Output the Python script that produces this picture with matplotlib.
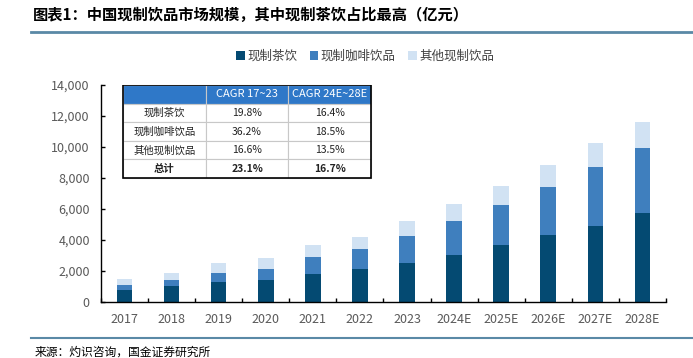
import matplotlib.pyplot as plt
import numpy as np
from matplotlib.patches import Rectangle
from matplotlib.lines import Line2D
from matplotlib.ticker import FuncFormatter

plt.rcParams['font.family'] = ['Noto Sans CJK SC', 'DejaVu Sans']

years = ['2017', '2018', '2019', '2020', '2021', '2022', '2023',
         '2024E', '2025E', '2026E', '2027E', '2028E']
tea = [790, 1050, 1270, 1440, 1830, 2130, 2520, 3050, 3680, 4300, 4930, 5720]
coffee = [330, 370, 620, 690, 1070, 1310, 1720, 2200, 2580, 3100, 3760, 4200]
other = [370, 470, 630, 730, 780, 750, 990, 1070, 1250, 1440, 1550, 1710]

table_cols = ['', 'CAGR 17~23', 'CAGR 24E~28E']
table_rows = [
    ['现制茶饮', '19.8%', '16.4%'],
    ['现制咖啡饮品', '36.2%', '18.5%'],
    ['其他现制饮品', '16.6%', '13.5%'],
    ['总计', '23.1%', '16.7%'],
]

c_tea = '#044a72'
c_coffee = '#3f7fbe'
c_other = '#d1e2f3'

fig = plt.figure(figsize=(6.93, 3.58), dpi=100)
ax = fig.add_axes([0.1457, 0.1564, 0.8153, 0.6062])

x = np.arange(len(years))
w = 0.33
b1 = ax.bar(x, tea, w, color=c_tea, label='现制茶饮')
b2 = ax.bar(x, coffee, w, bottom=tea, color=c_coffee, label='现制咖啡饮品')
bottom2 = np.array(tea) + np.array(coffee)
b3 = ax.bar(x, other, w, bottom=bottom2, color=c_other, label='其他现制饮品')

ax.set_xlim(-0.5, len(years) - 0.5)
ax.set_ylim(0, 14000)
ax.set_yticks(range(0, 14001, 2000))
ax.yaxis.set_major_formatter(FuncFormatter(lambda v, p: f'{int(v):,}'))
ax.set_xticks(x)
ax.set_xticklabels(years)
ax.set_xticks(np.arange(-0.5, len(years), 1), minor=True)
ax.tick_params(axis='x', which='major', length=0, pad=8, labelsize=9, labelcolor='#595959')
ax.tick_params(axis='x', which='minor', direction='in', length=3, width=1)
ax.tick_params(axis='y', direction='in', length=3, width=1, labelsize=9, labelcolor='#595959', pad=8)
for s in ['top', 'right']:
    ax.spines[s].set_visible(False)
for s in ['left', 'bottom']:
    ax.spines[s].set_linewidth(1)

# table
tb = ax.table(cellText=table_rows, colLabels=table_cols,
              bbox=[0.039, 0.571, 0.439, 0.429], cellLoc='center')
tb.auto_set_font_size(False)
for (r, c), cell in tb.get_celld().items():
    cell.set_edgecolor('#c8c8c8')
    cell.set_linewidth(0.8)
    cell.get_text().set_fontsize(7.5)
    if r == 0:
        cell.set_facecolor('#2f78c8')
        cell.get_text().set_color('white')
        cell.get_text().set_fontsize(8)
    else:
        cell.get_text().set_color('#222222')
    if r == len(table_rows):
        cell.get_text().set_fontweight('bold')
ax.add_patch(Rectangle((0.039, 0.571), 0.439, 0.429, transform=ax.transAxes,
                       fill=False, edgecolor='black', linewidth=1.2, zorder=10))

# legend
fig.legend(handles=[b1, b2, b3], loc='center', bbox_to_anchor=(0.527, 0.843),
           ncol=3, frameon=False, fontsize=9, handlelength=0.7, handleheight=0.7,
           handletextpad=0.2, columnspacing=1.0, labelcolor='#404040')

# title & source
fig.text(0.048, 0.958, '图表1：中国现制饮品市场规模，其中现制茶饮占比最高（亿元）',
         fontsize=11, fontweight='bold', ha='left', va='center', style='italic')
fig.add_artist(Line2D([0.045, 1.0], [0.912, 0.912], transform=fig.transFigure,
                      color='#5a89a6', linewidth=2))
fig.add_artist(Line2D([0.045, 1.0], [0.056, 0.056], transform=fig.transFigure,
                      color='#5a89a6', linewidth=1.5))
fig.text(0.05, 0.016, '来源：灼识咨询，国金证券研究所', fontsize=8.5, ha='left', va='center')

fig.savefig('out.png', dpi=100)
